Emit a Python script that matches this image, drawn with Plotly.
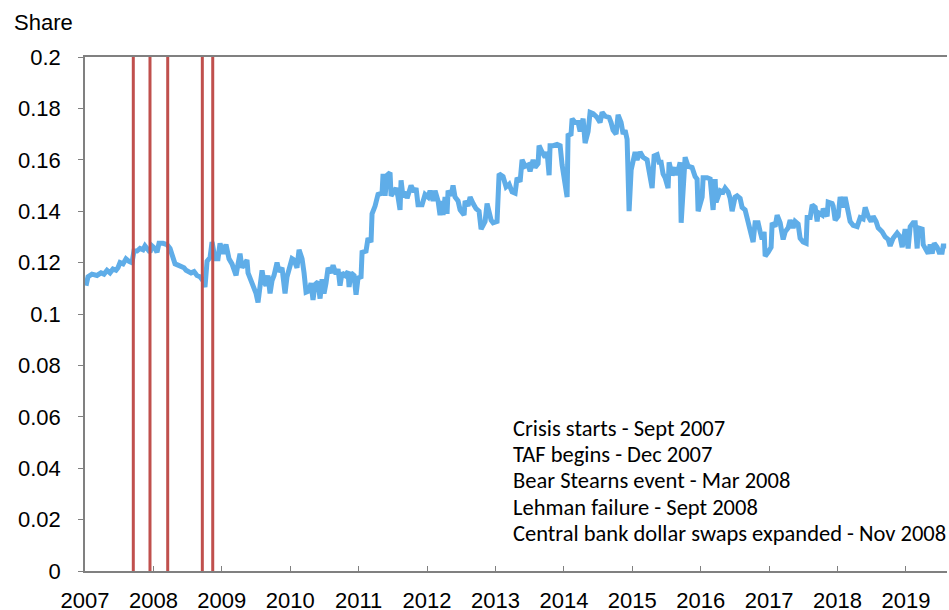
import plotly.graph_objects as go

# ---- data ----
years = [
    2007.015, 2007.044, 2007.102, 2007.175, 2007.234, 2007.278, 2007.322, 2007.366, 2007.409, 2007.453,
    2007.482, 2007.512, 2007.556, 2007.599, 2007.643, 2007.687, 2007.716, 2007.760, 2007.804, 2007.848,
    2007.877, 2007.921, 2007.950, 2007.980, 2008.023, 2008.053, 2008.082, 2008.140, 2008.199, 2008.243,
    2008.287, 2008.316, 2008.360, 2008.404, 2008.447, 2008.477, 2008.520, 2008.550, 2008.594, 2008.637,
    2008.681, 2008.725, 2008.754, 2008.784, 2008.828, 2008.857, 2008.901, 2008.944, 2008.974, 2009.018,
    2009.061, 2009.105, 2009.149, 2009.178, 2009.208, 2009.237, 2009.266, 2009.295, 2009.339, 2009.368,
    2009.383, 2009.427, 2009.471, 2009.500, 2009.529, 2009.559, 2009.588, 2009.617, 2009.646, 2009.675,
    2009.705, 2009.734, 2009.763, 2009.807, 2009.836, 2009.880, 2009.924, 2009.953, 2009.997, 2010.026,
    2010.056, 2010.099, 2010.129, 2010.173, 2010.202, 2010.231, 2010.275, 2010.304, 2010.333, 2010.363,
    2010.406, 2010.436, 2010.465, 2010.494, 2010.523, 2010.553, 2010.597, 2010.626, 2010.670, 2010.699,
    2010.728, 2010.757, 2010.801, 2010.845, 2010.860, 2010.889, 2010.933, 2010.962, 2010.991, 2011.035,
    2011.050, 2011.108, 2011.137, 2011.181, 2011.196, 2011.240, 2011.283, 2011.342, 2011.357, 2011.386,
    2011.415, 2011.459, 2011.474, 2011.503, 2011.547, 2011.576, 2011.605, 2011.620, 2011.649, 2011.693,
    2011.708, 2011.766, 2011.810, 2011.839, 2011.868, 2011.927, 2011.971, 2012.015, 2012.044, 2012.088,
    2012.117, 2012.161, 2012.190, 2012.219, 2012.234, 2012.263, 2012.292, 2012.307, 2012.351, 2012.380,
    2012.409, 2012.453, 2012.483, 2012.541, 2012.556, 2012.599, 2012.629, 2012.673, 2012.716, 2012.760,
    2012.790, 2012.819, 2012.848, 2012.877, 2012.906, 2012.936, 2012.965, 2013.023, 2013.053, 2013.111,
    2013.155, 2013.199, 2013.243, 2013.287, 2013.316, 2013.360, 2013.389, 2013.433, 2013.477, 2013.506,
    2013.550, 2013.579, 2013.623, 2013.637, 2013.681, 2013.725, 2013.754, 2013.784, 2013.798, 2013.842,
    2013.901, 2013.945, 2013.974, 2014.047, 2014.061, 2014.105, 2014.120, 2014.164, 2014.208, 2014.237,
    2014.281, 2014.310, 2014.354, 2014.383, 2014.427, 2014.485, 2014.529, 2014.559, 2014.602, 2014.661,
    2014.690, 2014.719, 2014.763, 2014.792, 2014.836, 2014.866, 2014.895, 2014.924, 2014.953, 2014.983,
    2015.041, 2015.070, 2015.114, 2015.158, 2015.216, 2015.260, 2015.290, 2015.319, 2015.363, 2015.392,
    2015.421, 2015.450, 2015.480, 2015.523, 2015.538, 2015.582, 2015.626, 2015.655, 2015.699, 2015.714,
    2015.772, 2015.816, 2015.874, 2015.918, 2015.947, 2015.962, 2016.021, 2016.035, 2016.094, 2016.138,
    2016.181, 2016.211, 2016.225, 2016.284, 2016.328, 2016.357, 2016.401, 2016.430, 2016.459, 2016.503,
    2016.532, 2016.576, 2016.605, 2016.649, 2016.693, 2016.737, 2016.766, 2016.795, 2016.839, 2016.869,
    2016.898, 2016.927, 2016.942, 2016.985, 2017.029, 2017.044, 2017.088, 2017.117, 2017.161, 2017.205,
    2017.234, 2017.278, 2017.307, 2017.351, 2017.380, 2017.424, 2017.453, 2017.497, 2017.541, 2017.556,
    2017.600, 2017.629, 2017.673, 2017.702, 2017.716, 2017.775, 2017.790, 2017.848, 2017.863, 2017.921,
    2017.936, 2017.965, 2018.009, 2018.038, 2018.082, 2018.111, 2018.140, 2018.184, 2018.228, 2018.287,
    2018.331, 2018.374, 2018.404, 2018.447, 2018.491, 2018.521, 2018.564, 2018.594, 2018.652, 2018.696,
    2018.740, 2018.769, 2018.813, 2018.871, 2018.915, 2018.945, 2018.988, 2019.018, 2019.032, 2019.062,
    2019.105, 2019.135, 2019.164, 2019.179, 2019.237, 2019.252, 2019.295, 2019.325, 2019.354, 2019.383,
    2019.413, 2019.456, 2019.485, 2019.529, 2019.544, 2019.588,
]

share = [
    0.1110, 0.1145, 0.1155, 0.1150, 0.1160, 0.1155, 0.1170, 0.1160, 0.1175, 0.1170,
    0.1180, 0.1200, 0.1195, 0.1215, 0.1205, 0.1200, 0.1245, 0.1245, 0.1255, 0.1250,
    0.1265, 0.1245, 0.1240, 0.1265, 0.1255, 0.1240, 0.1275, 0.1275, 0.1270, 0.1255,
    0.1220, 0.1195, 0.1190, 0.1185, 0.1180, 0.1170, 0.1165, 0.1160, 0.1165, 0.1150,
    0.1145, 0.1130, 0.1105, 0.1205, 0.1220, 0.1280, 0.1215, 0.1215, 0.1275, 0.1235,
    0.1270, 0.1215, 0.1195, 0.1175, 0.1150, 0.1195, 0.1235, 0.1180, 0.1195, 0.1210,
    0.1160, 0.1130, 0.1105, 0.1080, 0.1045, 0.1130, 0.1170, 0.1125, 0.1110, 0.1150,
    0.1080, 0.1130, 0.1150, 0.1200, 0.1165, 0.1180, 0.1080, 0.1145, 0.1190, 0.1215,
    0.1210, 0.1180, 0.1250, 0.1215, 0.1160, 0.1085, 0.1090, 0.1120, 0.1055, 0.1115,
    0.1125, 0.1060, 0.1135, 0.1080, 0.1120, 0.1180, 0.1160, 0.1190, 0.1155, 0.1175,
    0.1110, 0.1160, 0.1150, 0.1165, 0.1105, 0.1160, 0.1150, 0.1075, 0.1140, 0.1145,
    0.1240, 0.1245, 0.1295, 0.1280, 0.1390, 0.1420, 0.1465, 0.1470, 0.1545, 0.1460,
    0.1540, 0.1550, 0.1460, 0.1470, 0.1490, 0.1455, 0.1405, 0.1520, 0.1455, 0.1475,
    0.1450, 0.1500, 0.1475, 0.1490, 0.1425, 0.1425, 0.1465, 0.1455, 0.1480, 0.1440,
    0.1480, 0.1440, 0.1385, 0.1440, 0.1385, 0.1455, 0.1390, 0.1480, 0.1460, 0.1500,
    0.1455, 0.1440, 0.1405, 0.1385, 0.1440, 0.1420, 0.1455, 0.1430, 0.1410, 0.1400,
    0.1330, 0.1345, 0.1360, 0.1430, 0.1400, 0.1365, 0.1355, 0.1360, 0.1545, 0.1535,
    0.1495, 0.1505, 0.1475, 0.1470, 0.1530, 0.1515, 0.1600, 0.1575, 0.1580, 0.1555,
    0.1600, 0.1570, 0.1585, 0.1655, 0.1630, 0.1610, 0.1630, 0.1540, 0.1655, 0.1655,
    0.1660, 0.1655, 0.1580, 0.1455, 0.1695, 0.1700, 0.1760, 0.1745, 0.1745, 0.1710,
    0.1760, 0.1665, 0.1710, 0.1785, 0.1780, 0.1765, 0.1745, 0.1785, 0.1770, 0.1765,
    0.1745, 0.1715, 0.1700, 0.1775, 0.1745, 0.1700, 0.1715, 0.1680, 0.1400, 0.1560,
    0.1630, 0.1600, 0.1630, 0.1610, 0.1600, 0.1535, 0.1490, 0.1615, 0.1620, 0.1590,
    0.1590, 0.1545, 0.1530, 0.1490, 0.1590, 0.1540, 0.1570, 0.1540, 0.1590, 0.1355,
    0.1610, 0.1575, 0.1570, 0.1535, 0.1525, 0.1400, 0.1455, 0.1530, 0.1530, 0.1525,
    0.1405, 0.1525, 0.1435, 0.1480, 0.1475, 0.1490, 0.1475, 0.1450, 0.1400, 0.1455,
    0.1460, 0.1450, 0.1415, 0.1405, 0.1355, 0.1315, 0.1280, 0.1355, 0.1355, 0.1320,
    0.1290, 0.1320, 0.1225, 0.1240, 0.1260, 0.1355, 0.1340, 0.1385, 0.1355, 0.1290,
    0.1320, 0.1335, 0.1365, 0.1335, 0.1360, 0.1350, 0.1295, 0.1280, 0.1275, 0.1375,
    0.1375, 0.1425, 0.1415, 0.1360, 0.1395, 0.1385, 0.1410, 0.1380, 0.1435, 0.1430,
    0.1420, 0.1365, 0.1380, 0.1455, 0.1415, 0.1455, 0.1415, 0.1360, 0.1345, 0.1340,
    0.1375, 0.1370, 0.1415, 0.1380, 0.1360, 0.1380, 0.1360, 0.1335, 0.1320, 0.1300,
    0.1290, 0.1265, 0.1295, 0.1315, 0.1300, 0.1260, 0.1330, 0.1275, 0.1255, 0.1340,
    0.1355, 0.1355, 0.1255, 0.1335, 0.1330, 0.1270, 0.1250, 0.1235, 0.1270, 0.1235,
    0.1275, 0.1260, 0.1240, 0.1240, 0.1265, 0.1265,
]

event_years = [2007.706, 2007.950, 2008.209, 2008.715, 2008.867]
event_labels = [
    "Crisis starts - Sept 2007",
    "TAF begins - Dec 2007",
    "Bear Stearns event - Mar 2008",
    "Lehman failure - Sept 2008",
    "Central bank dollar swaps expanded - Nov 2008",
]

x_ticks = list(range(2007, 2020))
x_tick_labels = [str(y) for y in x_ticks]
y_ticks = [0, 0.02, 0.04, 0.06, 0.08, 0.1, 0.12, 0.14, 0.16, 0.18, 0.2]
y_tick_labels = ["0", "0.02", "0.04", "0.06", "0.08", "0.1", "0.12", "0.14", "0.16", "0.18", "0.2"]

# ---- figure ----
fig = go.Figure()

fig.add_trace(go.Scatter(
    x=years, y=share, mode="lines",
    line=dict(color="#5FADE8", width=5),
    showlegend=False, hoverinfo="skip",
))

for ex in event_years:
    fig.add_trace(go.Scatter(
        x=[ex, ex], y=[y_ticks[0], y_ticks[-1]], mode="lines",
        line=dict(color="#C0504D", width=3),
        showlegend=False, hoverinfo="skip",
    ))

axis_font = dict(family="Arial, Liberation Sans, sans-serif", size=22, color="#000000")
note_font = dict(family="Calibri, Carlito, Lato, sans-serif", size=22.5, color="#000000")

line_ys = [0.2763, 0.2257, 0.1751, 0.1245, 0.0739]
for txt, yy in zip(event_labels, line_ys):
    fig.add_annotation(
        text=txt, xref="paper", yref="paper", x=0.4942, y=yy,
        xanchor="left", yanchor="middle", showarrow=False, font=note_font,
    )

fig.add_annotation(
    text="Share", xref="paper", yref="paper", x=-0.0849, y=1.068,
    xanchor="left", yanchor="middle", showarrow=False, font=axis_font,
)

fig.update_layout(
    width=949, height=610,
    margin=dict(l=85, r=2, t=57, b=39, autoexpand=False),
    paper_bgcolor="white", plot_bgcolor="white",
    xaxis=dict(
        range=[2007, 2019.6], tickmode="array", tickvals=x_ticks, ticktext=x_tick_labels,
        ticks="inside", ticklen=5, tickwidth=1.3, tickcolor="#808080",
        showline=True, linecolor="#808080", linewidth=1.5, mirror=True,
        showgrid=False, zeroline=False, tickfont=axis_font, ticklabelstandoff=9,
        automargin=False,
    ),
    yaxis=dict(
        range=[0, 0.2], tickmode="array", tickvals=y_ticks, ticktext=y_tick_labels,
        ticks="outside", ticklen=5, tickwidth=1.3, tickcolor="#808080",
        showline=True, linecolor="#808080", linewidth=1.5,
        showgrid=False, zeroline=False, tickfont=axis_font, ticklabelstandoff=13,
        automargin=False,
    ),
)

fig.write_html(
    "out.html",
    config={"displayModeBar": False},
    post_script="document.body.style.margin='0px';",
)
